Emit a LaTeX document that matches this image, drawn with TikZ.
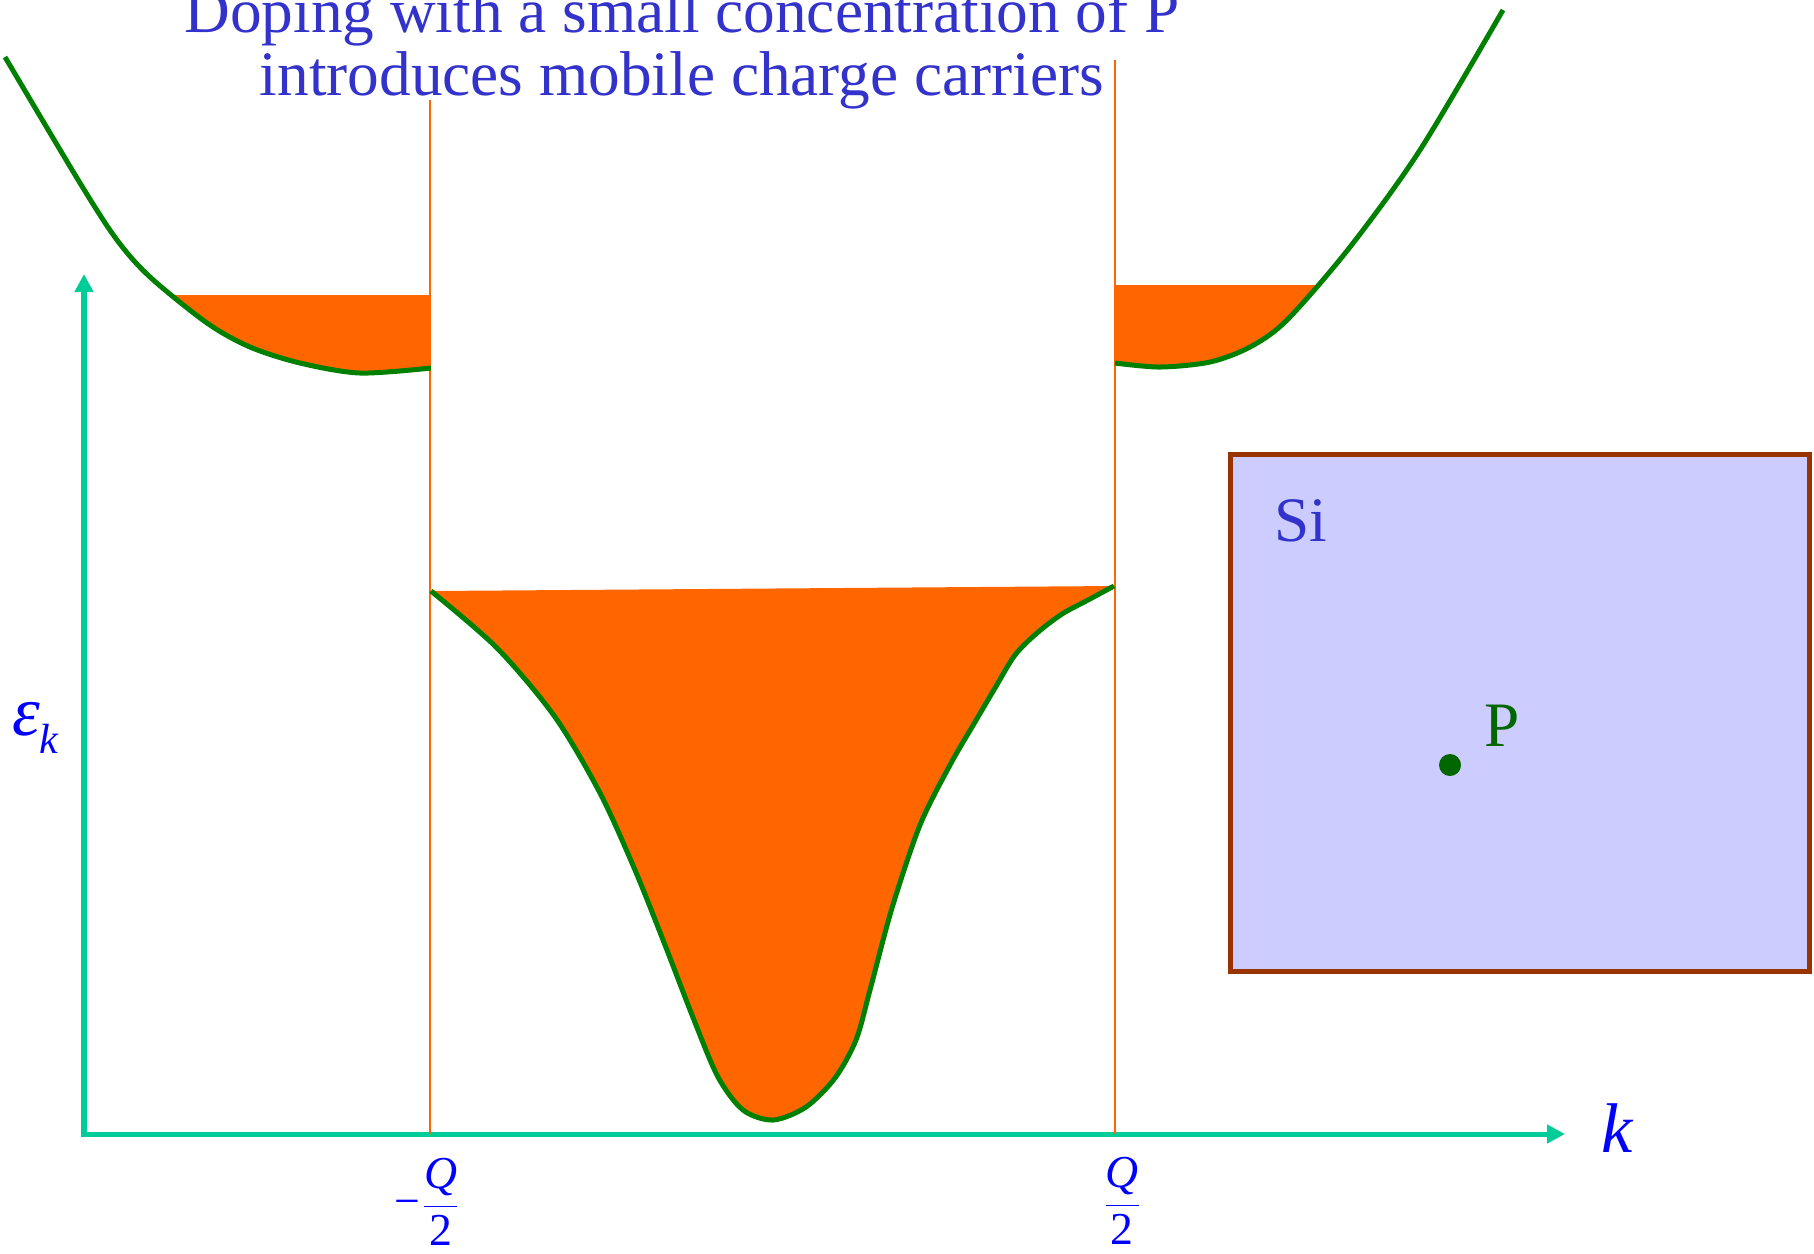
\documentclass[tikz,border=0pt]{standalone}
\usepackage{fontspec}
\setmainfont{Liberation Serif}
\usepackage{amsmath}
\usetikzlibrary{positioning, arrows.meta}

\definecolor{titleblue}{RGB}{51,51,204}
\definecolor{labelblue}{RGB}{0,0,255}
\definecolor{axisgreen}{RGB}{0,204,153}
\definecolor{bandorange}{RGB}{255,102,0}
\definecolor{bandgreen}{RGB}{0,128,0}
\definecolor{donorgreen}{RGB}{0,102,0}
\definecolor{sifill}{RGB}{204,204,255}
\definecolor{siborder}{RGB}{153,51,0}

\begin{document}
\begin{tikzpicture}[
  x=0.01cm, y=-0.01cm,
  every node/.style={font=\fontsize{18}{17.9}\selectfont, inner sep=0pt, outer sep=0pt},
  axes/.style={{Triangle[length=1.8mm, width=1.8mm]}-{Triangle[length=1.8mm, width=1.8mm]}, line width=0.5mm, axisgreen},
  zone/.style={bandorange, line width=0.25mm},
  band/.style={bandgreen, line width=0.5mm},
  occ/.style={fill=bandorange},
  mlbl/.style={text=labelblue, font=\fontsize{20}{20}\selectfont\itshape},
  flbl/.style={text=labelblue, font=\fontsize{13}{13}\selectfont}
]
\useasboundingbox (0,0) rectangle (1814,1253);

\def\ox{84} \def\oy{1134}
\def\qm{430} \def\qp{1115}

% ---------- Title ----------
\node[text=titleblue, align=center, anchor=south] (title) at (682,109)
  {Doping with a small concentration of P\\introduces mobile charge carriers};

% ---------- Axes ----------
\coordinate (origin) at (\ox,\oy);
\coordinate (ytip) at (\ox,274);
\coordinate (xtip) at (1565,\oy);
\draw[axes] (ytip) -- (origin) -- (xtip);
\node[mlbl, anchor=base west] (eps) at (12,735) {ε\raisebox{-1.8mm}{\fontsize{12}{12}\selectfont k}};
\node[mlbl, anchor=base west] (klab) at (1601,1152) {k};

% ---------- Zone boundaries ----------
\coordinate (qmtop) at (\qm,100);
\coordinate (qmbot) at (\qm,\oy);
\coordinate (qptop) at (\qp,60);
\coordinate (qpbot) at (\qp,\oy);
\node[flbl] (qminus) at (428,1202) {$\text{−}\dfrac{\textit{Q}}{\text{2}}$};
\node[flbl] (qplus) at (1122,1201) {$\dfrac{\textit{Q}}{\text{2}}$};

% ---------- Occupied states (orange) ----------
% left pocket: between the Fermi level and the band
\begin{scope}
  \clip plot[smooth] coordinates {(5,57) (80,183) (117,240) (150,277) (207,323) (250,347) (300,363)
    (360,373) (431,368)} -- (431,0) -- (5,0) -- cycle;
  \fill[occ] (0,295) rectangle (\qm,420);
\end{scope}
% right pocket
\begin{scope}
  \clip plot[smooth] coordinates {(1115,363) (1160,367) (1210,362) (1250,347) (1287,320) (1350,247)
    (1420,150) (1503,10)} -- (1503,0) -- (1115,0) -- cycle;
  \fill[occ] (\qp,285) rectangle (1600,420);
\end{scope}
% central well
\fill[occ] plot[smooth] coordinates {(431,591) (497,648) (555,717) (600,793) (635,870) (665,945)
  (694,1020) (718,1077) (743,1110) (773,1120) (806,1107) (835,1078) (856,1040) (870,990) (892,908)
  (920,825) (950,765) (975,722) (995,688) (1015,655) (1037,633) (1062,614) (1088,600) (1114,586)} -- cycle;

\draw[zone] (qmtop) -- (qmbot);
\draw[zone] (qptop) -- (qpbot);

% ---------- Band curves (green) ----------
\draw[band] plot[smooth] coordinates {(5,57) (80,183) (117,240) (150,277) (207,323) (250,347) (300,363)
  (360,373) (431,368)};
\draw[band] plot[smooth] coordinates {(1115,363) (1160,367) (1210,362) (1250,347) (1287,320) (1350,247)
  (1420,150) (1503,10)};
\draw[band] plot[smooth] coordinates {(431,591) (497,648) (555,717) (600,793) (635,870) (665,945)
  (694,1020) (718,1077) (743,1110) (773,1120) (806,1107) (835,1078) (856,1040) (870,990) (892,908)
  (920,825) (950,765) (975,722) (995,688) (1015,655) (1037,633) (1062,614) (1088,600) (1114,586)};

% ---------- Si crystal with P donor ----------
\node[draw=siborder, fill=sifill, line width=0.5mm, minimum width=5.79cm, minimum height=5.17cm,
      anchor=north west] (crystal) at (1230,454) {};
\node[text=titleblue, anchor=base west] (silabel) at ([xshift=4.4mm, yshift=-8.7mm]crystal.north west) {Si};
\node[circle, fill=donorgreen, minimum size=2.2mm] (donor) at (1450,765) {};
\node[text=donorgreen, anchor=base west] (plabel) at ([xshift=3.4mm, yshift=1.9mm]donor.center) {P};

\end{tikzpicture}
\end{document}
